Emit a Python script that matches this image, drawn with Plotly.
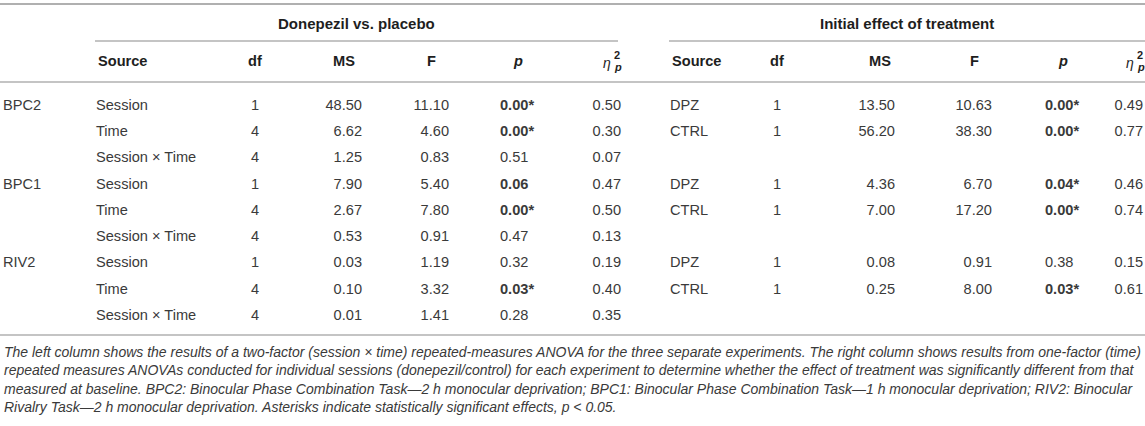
import plotly.graph_objects as go

# ---- table data ----
experiments = ["BPC2", "BPC1", "RIV2"]
effects = ["Session", "Time", "Session × Time"]

# Donepezil vs. placebo (two-factor ANOVA), 3 rows per experiment
dp_df = [1, 4, 4, 1, 4, 4, 1, 4, 4]
dp_ms = [48.50, 6.62, 1.25, 7.90, 2.67, 0.53, 0.03, 0.10, 0.01]
dp_f = [11.10, 4.60, 0.83, 5.40, 7.80, 0.91, 1.19, 3.32, 1.41]
dp_p = [0.00, 0.00, 0.51, 0.06, 0.00, 0.47, 0.32, 0.03, 0.28]
dp_p_bold = [True, True, False, True, True, False, False, True, False]
dp_eta = [0.50, 0.30, 0.07, 0.47, 0.50, 0.13, 0.19, 0.40, 0.35]

# Initial effect of treatment (one-factor ANOVA), 2 rows per experiment
sessions = ["DPZ", "CTRL"]
it_df = [1, 1, 1, 1, 1, 1]
it_ms = [13.50, 56.20, 4.36, 7.00, 0.08, 0.25]
it_f = [10.63, 38.30, 6.70, 17.20, 0.91, 8.00]
it_p = [0.00, 0.00, 0.04, 0.00, 0.38, 0.03]
it_p_bold = [True, True, True, True, False, True]
it_eta = [0.49, 0.77, 0.46, 0.74, 0.15, 0.61]

caption_lines = [
    "The left column shows the results of a two-factor (session × time) repeated-measures ANOVA for the three separate experiments. The right column shows results from one-factor (time)",
    "repeated measures ANOVAs conducted for individual sessions (donepezil/control) for each experiment to determine whether the effect of treatment was significantly different from that",
    "measured at baseline. BPC2: Binocular Phase Combination Task—2 h monocular deprivation; BPC1: Binocular Phase Combination Task—1 h monocular deprivation; RIV2: Binocular",
    "Rivalry Task—2 h monocular deprivation. Asterisks indicate statistically significant effects, p < 0.05.",
]

W, H = 1145, 426
ROW0, STEP = 106, 26.3  # pixel centre of first row, row pitch
FONT = "Liberation Sans, Arial, sans-serif"
TXT = "#3a3a3a"
HEAD = "#1e1e1e"
RULE = "#b0b0b0"
BODY = 14.6


def ry(px):
    # pixel -> row units on the y axis
    return (px - ROW0) / STEP


def fmt_p(v, bold):
    s = f"{v:.2f}" + ("*" if v < 0.05 else "")
    return f"<b>{s}</b>" if bold else s


n_dp = len(dp_df)
rows_dp = list(range(n_dp))
# right block rows: first two of each experiment's three rows
rows_it = [i * 3 + j for i in range(len(experiments)) for j in range(len(sessions))]

fig = go.Figure()


def col(x, y, text, pos, size=BODY, color=TXT):
    fig.add_trace(go.Scatter(
        x=[x] * len(y), y=y, text=text, mode="text",
        textposition=pos, textfont=dict(family=FONT, size=size, color=color),
        hoverinfo="skip", showlegend=False,
    ))


# left block
col(3, [i * 3 for i in range(len(experiments))], experiments, "middle right")
col(96, rows_dp, effects * len(experiments), "middle right")
col(255, rows_dp, [str(v) for v in dp_df], "middle center")
col(362, rows_dp, [f"{v:.2f}" for v in dp_ms], "middle left")
col(449, rows_dp, [f"{v:.2f}" for v in dp_f], "middle left")
col(500, rows_dp, [fmt_p(v, b) for v, b in zip(dp_p, dp_p_bold)], "middle right")
col(621, rows_dp, [f"{v:.2f}" for v in dp_eta], "middle left")

# right block
col(670, rows_it, sessions * len(experiments), "middle right")
col(777, rows_it, [str(v) for v in it_df], "middle center")
col(895, rows_it, [f"{v:.2f}" for v in it_ms], "middle left")
col(992, rows_it, [f"{v:.2f}" for v in it_f], "middle left")
col(1045, rows_it, [fmt_p(v, b) for v, b in zip(it_p, it_p_bold)], "middle right")
col(1143, rows_it, [f"{v:.2f}" for v in it_eta], "middle left")

annotations = []


def note(x, ypx, text, xanchor="center", size=BODY, color=HEAD):
    annotations.append(dict(
        x=x, y=ry(ypx), xref="x", yref="y", text=text, showarrow=False,
        xanchor=xanchor, yanchor="middle",
        font=dict(family=FONT, size=size, color=color),
    ))


# group headers
note(356, 23, "<b>Donepezil vs. placebo</b>", size=15)
note(907, 23, "<b>Initial effect of treatment</b>", size=15)

# column headers
head_y = 61
note(96, head_y, "<b>Source</b>", xanchor="left")
note(255, head_y, "<b>df</b>")
note(344, head_y, "<b>MS</b>")
note(431, head_y, "<b>F</b>")
note(518, head_y, "<b><i>p</i></b>")
note(670, head_y, "<b>Source</b>", xanchor="left")
note(777, head_y, "<b>df</b>")
note(880, head_y, "<b>MS</b>")
note(974, head_y, "<b>F</b>")
note(1063, head_y, "<b><i>p</i></b>")
for ex in (613, 1136):
    note(ex, head_y + 2, "<i>η</i>", size=14, xanchor="right")
    note(ex - 1, head_y - 6, "<b>2</b>", size=11, xanchor="left")
    note(ex - 1, head_y + 6, "<b><i>p</i></b>", size=11, xanchor="left")

# caption
for k, line in enumerate(caption_lines):
    note(2, 352 + k * 18.3, f"<i>{line}</i>", xanchor="left", size=14, color=TXT)

# rules
shapes = []


def rule(x0, x1, ypx, width=1.6):
    shapes.append(dict(type="line", xref="x", yref="y", x0=x0, x1=x1,
                       y0=ry(ypx), y1=ry(ypx), line=dict(color=RULE, width=width)))


rule(0, W, 4, 2)
rule(95, 618, 41)
rule(669, W, 41)
rule(0, W, 82)
rule(0, W, 335)

fig.update_layout(
    width=W, height=H,
    margin=dict(l=0, r=0, t=0, b=0),
    paper_bgcolor="white", plot_bgcolor="white",
    xaxis=dict(range=[0, W], visible=False, fixedrange=True),
    yaxis=dict(range=[ry(H), ry(0)], visible=False, fixedrange=True),
    annotations=annotations, shapes=shapes,
    showlegend=False,
)

fig.write_html(
    "out.html",
    config={"displayModeBar": False},
    post_script="document.body.style.margin='0';document.body.style.overflow='hidden';",
)
